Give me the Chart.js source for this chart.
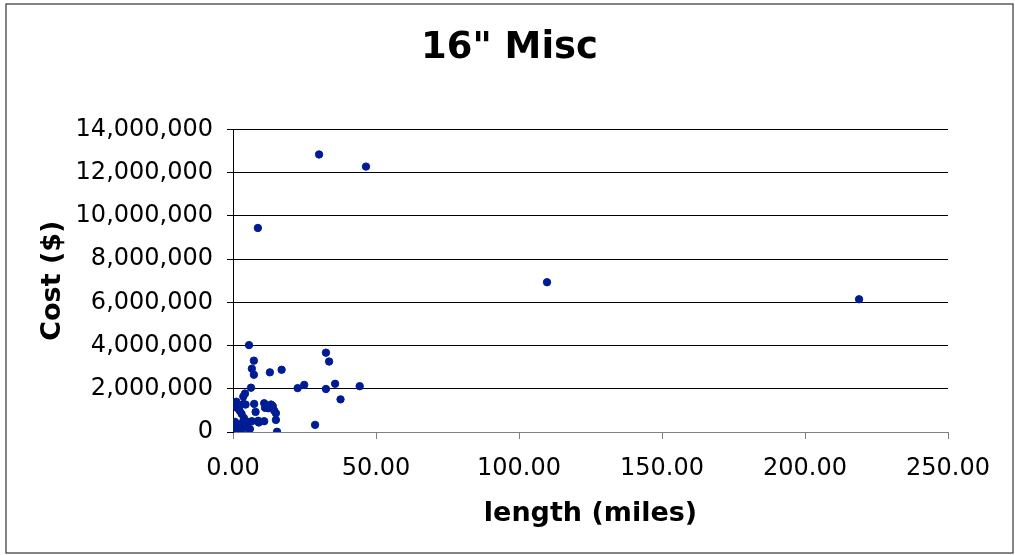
<!DOCTYPE html>
<html>
<head>
<meta charset="utf-8">
<title>16" Misc</title>
<script src="https://cdn.jsdelivr.net/npm/chart.js@4/dist/chart.umd.min.js"></script>
<style>
  body{margin:0;background:#fff;}
  #wrap{width:1015px;height:555px;}
</style>
</head>
<body>
<div id="wrap"><canvas id="chart" width="1015" height="555"></canvas></div>
<script>
// length (miles) vs cost ($)
const lengthMiles = [
  30.1, 46.5, 8.7, 109.8, 218.9, 5.6, 32.5, 33.6, 7.3, 6.6,
  7.3, 12.9, 17.0, 22.6, 24.9, 32.5, 35.7, 44.3, 37.6, 6.3,
  4.2, 3.6, 28.7, 15.4, 15.0, 1.15, 4.4, 7.4, 10.9, 13.3,
  14.4, 11.2, 7.9, 2.3, 1.4, 3.0, 10.9, 8.8, 6.6, 5.9,
  1.7, 1.4, 0.7, 4.2, 5.2, 0.3, 1.0, 2.4, 3.5, 3.8,
  4.9, 0.2, 2.8, 12.3, 13.9, 3.6, 15.0, 9.0
];
const costDollars = [
  12840000, 12280000, 9440000, 6930000, 6140000, 4020000, 3670000, 3260000, 3300000, 2930000,
  2650000, 2760000, 2880000, 2030000, 2180000, 1990000, 2230000, 2120000, 1510000, 2050000,
  1780000, 1640000, 330000, 10000, 560000, 1400000, 1270000, 1300000, 1330000, 1270000,
  990000, 1120000, 930000, 990000, 1120000, 840000, 500000, 520000, 500000, 140000,
  330000, 90000, 470000, 280000, 470000, 20000, 190000, 100000, 470000, 650000,
  190000, 250000, 40000, 1100000, 1200000, 1300000, 870000, 440000
];
const xTicks = [0, 50, 100, 150, 200, 250];
const yTicks = [0, 2000000, 4000000, 6000000, 8000000, 10000000, 12000000, 14000000];

const points = lengthMiles.map((x, i) => ({x: x, y: costDollars[i]}));
const FONT = "'DejaVu Sans', Verdana, sans-serif";

// outer frame round the whole chart
const framePlugin = {
  id: 'frame',
  afterDraw(chart){
    const c = chart.ctx;
    c.save();
    c.strokeStyle = '#333';
    c.lineWidth = 1.2;
    c.strokeRect(6, 4, 1007, 549);
    c.restore();
  }
};

new Chart(document.getElementById('chart').getContext('2d'), {
  type: 'scatter',
  data: {
    datasets: [{
      label: 'Cost',
      data: points,
      backgroundColor: '#001c94',
      borderColor: '#001c94',
      pointRadius: 3.7,
      pointHoverRadius: 3.7
    }]
  },
  options: {
    responsive: false,
    animation: false,
    layout: {padding: {left: 10, right: 6, top: 10, bottom: 10}},
    plugins: {
      legend: {display: false},
      tooltip: {enabled: false},
      title: {
        display: true,
        text: '16" Misc',
        color: '#000',
        font: {family: FONT, size: 37, weight: 'bold'},
        padding: {top: 16, bottom: 59}
      }
    },
    scales: {
      x: {
        type: 'linear',
        min: 0, max: 250,
        afterBuildTicks: s => { s.ticks = xTicks.map(v => ({value: v})); },
        afterFit: s => { s.height = 113; },
        ticks: {
          color: '#000',
          padding: 15,
          maxRotation: 0,
          font: {family: FONT, size: 24},
          callback: v => Number(v).toFixed(2)
        },
        grid: {drawOnChartArea: false, drawTicks: true, tickLength: 7, color: '#808080'},
        border: {display: true, color: '#808080', width: 1},
        title: {
          display: true,
          text: 'length (miles)',
          color: '#000',
          font: {family: FONT, size: 27, weight: 'bold'},
          padding: {top: 0, bottom: 15}
        }
      },
      y: {
        type: 'linear',
        min: 0, max: 14000000,
        afterBuildTicks: s => { s.ticks = yTicks.map(v => ({value: v})); },
        afterFit: s => { s.width = 223; },
        ticks: {
          color: '#000',
          padding: 14,
          font: {family: FONT, size: 24},
          callback: v => Number(v).toLocaleString('en-US')
        },
        grid: {color: '#000', lineWidth: 1, drawTicks: true, tickLength: 6},
        border: {display: true, color: '#000', width: 1},
        title: {
          display: true,
          text: 'Cost ($)',
          color: '#000',
          font: {family: FONT, size: 27, weight: 'bold'},
          padding: {top: 27, bottom: 0}
        }
      },
      // empty right-hand axis, only there to hold the blank margin right of the plot
      yPad: {
        type: 'linear',
        position: 'right',
        min: 0, max: 1,
        afterFit: s => { s.width = 61; },
        ticks: {display: false},
        grid: {display: false, drawTicks: false},
        border: {display: false}
      }
    }
  },
  plugins: [framePlugin]
});
</script>
</body>
</html>
